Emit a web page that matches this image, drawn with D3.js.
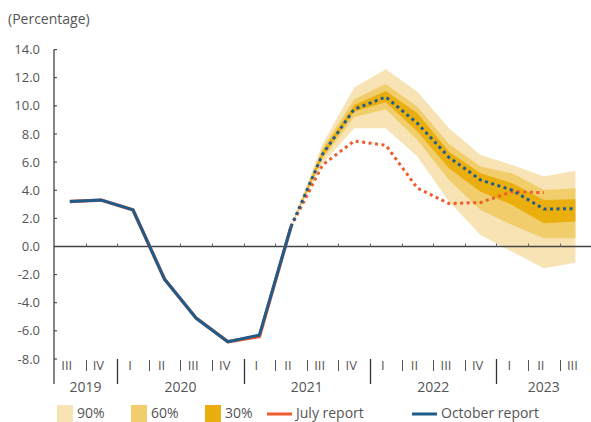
<!DOCTYPE html>
<html>
<head>
<meta charset="utf-8">
<script src="https://cdn.jsdelivr.net/npm/d3@7"></script>
<style>
  body { margin: 0; background: #fff; }
  svg { display: block; font-family: "Open Sans", "Noto Sans", sans-serif; }
  svg text { opacity: 0.999; }
</style>
</head>
<body>
<div id="chart"></div>
<script>
// quarters on the x axis
const quarters = ["2019 III", "2019 IV",
  "2020 I", "2020 II", "2020 III", "2020 IV",
  "2021 I", "2021 II", "2021 III", "2021 IV",
  "2022 I", "2022 II", "2022 III", "2022 IV",
  "2023 I", "2023 II", "2023 III"];
const quarterLabels = ["III", "IV", "I", "II", "III", "IV", "I", "II", "III", "IV",
  "I", "II", "III", "IV", "I", "II", "III"];
const years = ["2019", "2020", "2021", "2022", "2023"];
const yTicks = [14, 12, 10, 8, 6, 4, 2, 0, -2, -4, -6, -8];

// observed values (2019 III .. 2021 II)
const octoberActual = [3.2, 3.3, 2.6, -2.33, -5.1, -6.77, -6.3, 1.41];
const julyActual = [3.2, 3.3, 2.6, -2.33, -5.1, -6.77, -6.4, 1.41];

// projections (from 2021 II)
const octoberForecast = [1.41, 6.56, 9.76, 10.63, 8.76, 6.34, 4.73, 4.0, 2.67, 2.68];
const julyForecast = [1.41, 5.8, 7.5, 7.2, 4.15, 3.05, 3.13, 3.9, 3.83];

// fan bands (from 2021 II)
const band90Low = [1.41, 5.9, 8.4, 8.4, 6.39, 3.19, 0.82, -0.37, -1.55, -1.15];
const band90High = [1.41, 7.3, 11.3, 12.6, 11.0, 8.4, 6.51, 5.8, 4.97, 5.39];
const band60Low = [1.41, 6.2, 9.2, 9.75, 7.57, 4.73, 2.6, 1.53, 0.58, 0.58];
const band60High = [1.41, 7.0, 10.47, 11.55, 9.94, 7.29, 5.68, 5.2, 4.02, 4.14];
const band30Low = [1.41, 6.4, 9.59, 10.25, 8.17, 5.56, 3.9, 2.95, 1.65, 1.77];
const band30High = [1.41, 6.8, 10.06, 11.05, 9.47, 6.74, 5.2, 4.5, 3.31, 3.36];

const forecastStart = 7;

const width = 591, height = 422;
const textColor = "#555";
const blue = "#1d5c8c", orange = "#ef5b2b";
const c90 = "#f8e3b5", c60 = "#f1cd6b", c30 = "#eaaf0e";

const svg = d3.select("#chart").append("svg")
  .attr("width", width)
  .attr("height", height);

const x = d3.scaleBand().domain(quarters).range([54, 591.2]).padding(0);
const y = d3.scaleLinear().domain([-8, 14]).range([359, 49.6]);
const cx = i => x(quarters[i]) + x.bandwidth() / 2;
const crisp = v => Math.round(v) + 0.5;

// title
svg.append("text")
  .attr("x", 8).attr("y", 24)
  .attr("font-size", 14).attr("fill", textColor)
  .text("(Percentage)");

// fan chart
function band(low, high, color) {
  const data = low.map((d, i) => ({ i: i + forecastStart, lo: d, hi: high[i] }));
  const area = d3.area()
    .x(d => cx(d.i))
    .y0(d => y(d.lo))
    .y1(d => y(d.hi));
  svg.append("path").datum(data).attr("d", area).attr("fill", color);
}
band(band90Low, band90High, c90);
band(band60Low, band60High, c60);
band(band30Low, band30High, c30);

// y axis
svg.append("line")
  .attr("x1", 54).attr("x2", 54)
  .attr("y1", y(14)).attr("y2", 384)
  .attr("stroke", "#333").attr("stroke-width", 1.2);

svg.selectAll(".ytick").data(yTicks).enter().append("line")
  .attr("x1", 54).attr("x2", 57)
  .attr("y1", d => y(d)).attr("y2", d => y(d))
  .attr("stroke", "#333").attr("stroke-width", 1);

svg.selectAll(".ylab").data(yTicks).enter().append("text")
  .attr("x", 40).attr("y", d => y(d))
  .attr("dy", "0.35em")
  .attr("text-anchor", "end")
  .attr("font-size", 13).attr("fill", textColor)
  .text(d => d.toFixed(1));

// zero line with quarter ticks
svg.append("line")
  .attr("x1", 54).attr("x2", 591)
  .attr("y1", y(0)).attr("y2", y(0))
  .attr("stroke", "#444").attr("stroke-width", 1.4);

const boundaries = quarters.slice(1).map(q => x(q));
svg.selectAll(".xtick").data(boundaries).enter().append("line")
  .attr("x1", d => crisp(d)).attr("x2", d => crisp(d))
  .attr("y1", y(0) - 3).attr("y2", y(0))
  .attr("stroke", "#666").attr("stroke-width", 1);

// quarter labels and separators under the plot
const idx = quarters.map((q, i) => i);
const yearStarts = idx.filter(i => i > 0 && quarterLabels[i] === "I");
svg.selectAll(".pipe").data(idx.filter(i => i > 0 && quarterLabels[i] !== "I"))
  .enter().append("line")
  .attr("x1", i => crisp(x(quarters[i]))).attr("x2", i => crisp(x(quarters[i])))
  .attr("y1", 360).attr("y2", 371)
  .attr("stroke", textColor).attr("stroke-width", 1);

svg.selectAll(".ysep").data(yearStarts).enter().append("line")
  .attr("x1", i => crisp(x(quarters[i]))).attr("x2", i => crisp(x(quarters[i])))
  .attr("y1", 359).attr("y2", 384)
  .attr("stroke", "#333").attr("stroke-width", 1.3);

svg.selectAll(".qlab").data(quarterLabels).enter().append("text")
  .attr("x", (d, i) => cx(i) - 3)
  .attr("y", 370)
  .attr("text-anchor", "middle")
  .attr("font-size", 13).attr("fill", textColor)
  .text(d => d);

// year labels centred under their quarters
svg.selectAll(".yearlab").data(years).enter().append("text")
  .attr("x", yr => {
    const inYear = idx.filter(i => quarters[i].startsWith(yr));
    return (x(quarters[inYear[0]]) + x(quarters[inYear[inYear.length - 1]]) + x.bandwidth()) / 2;
  })
  .attr("y", 391.5)
  .attr("text-anchor", "middle")
  .attr("font-size", 14).attr("fill", textColor)
  .text(d => d);

// lines
const line = d3.line().x(d => cx(d.i)).y(d => y(d.v));
const pts = (arr, start) => arr.map((v, i) => ({ i: i + start, v: v }));

svg.append("path").datum(pts(julyActual, 0)).attr("d", line)
  .attr("fill", "none").attr("stroke", orange).attr("stroke-width", 3.4)
  .attr("stroke-linejoin", "round");
svg.append("path").datum(pts(octoberActual, 0)).attr("d", line)
  .attr("fill", "none").attr("stroke", blue).attr("stroke-width", 3)
  .attr("stroke-linejoin", "round");

svg.append("path").datum(pts(julyForecast, forecastStart)).attr("d", line)
  .attr("fill", "none").attr("stroke", orange).attr("stroke-width", 3)
  .attr("stroke-dasharray", "3,3.5");
svg.append("path").datum(pts(octoberForecast, forecastStart)).attr("d", line)
  .attr("fill", "none").attr("stroke", blue).attr("stroke-width", 3)
  .attr("stroke-dasharray", "3,3.5");

// legend
const legend = svg.append("g");
const swatches = [
  { label: "90%", color: c90, x: 57 },
  { label: "60%", color: c60, x: 131 },
  { label: "30%", color: c30, x: 205 }
];
swatches.forEach(s => {
  legend.append("rect")
    .attr("x", s.x).attr("y", 405)
    .attr("width", 16).attr("height", 17)
    .attr("fill", s.color);
  legend.append("text")
    .attr("x", s.x + 20).attr("y", 418)
    .attr("font-size", 14).attr("fill", textColor)
    .text(s.label);
});
const lineKeys = [
  { label: "July report", color: orange, x: 267 },
  { label: "October report", color: blue, x: 412 }
];
lineKeys.forEach(k => {
  legend.append("line")
    .attr("x1", k.x).attr("x2", k.x + 25)
    .attr("y1", 414).attr("y2", 414)
    .attr("stroke", k.color).attr("stroke-width", 3);
  legend.append("text")
    .attr("x", k.x + 29).attr("y", 418)
    .attr("font-size", 14).attr("fill", textColor)
    .text(k.label);
});
</script>
</body>
</html>
